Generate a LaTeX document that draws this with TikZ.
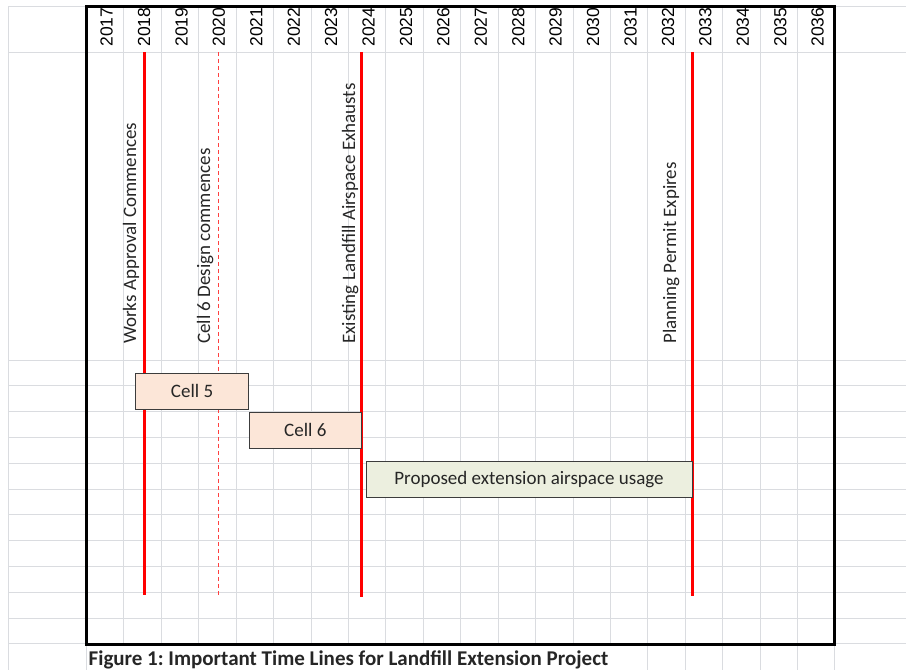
\documentclass[tikz,border=0pt]{standalone}
\usepackage{fontspec}
\setmainfont{Carlito}
\newfontfamily\yearfont{Liberation Sans}
\usetikzlibrary{positioning}
\frenchspacing

\definecolor{gridgray}{RGB}{218,220,224}
\definecolor{cellfill}{RGB}{252,230,216}
\definecolor{extfill}{RGB}{236,239,223}
\definecolor{boxedge}{RGB}{60,60,60}
\definecolor{txt}{RGB}{38,38,38}

\begin{document}
\begin{tikzpicture}[x=1pt,y=-1pt,
   gridline/.style={draw=gridgray,line width=0.9pt},
   yearlbl/.style={rotate=90,anchor=base west,inner sep=0pt,
      font=\yearfont\fontsize{17.5}{17.5}\selectfont},
   eventlbl/.style={rotate=90,anchor=base west,inner sep=0pt,text=txt,
      font=\fontsize{19}{19}\selectfont},
   milestone/.style={red,line width=3pt},
   softmilestone/.style={red!75,line width=1.2pt,dash pattern=on 4pt off 3pt},
   bar/.style={draw=boxedge,line width=0.8pt,fill=#1,inner sep=0pt,anchor=north west,
      minimum height=36.3pt,text=txt,font=\fontsize{19}{19}\selectfont},
   bar/.default=cellfill,
   node distance=0pt]

 \useasboundingbox (0,0) rectangle (906,670);

 %sheet grid
 \draw[gridline] (8,6) -- (906,6) (8,52) -- (906,52);
 \foreach \r in {0,...,11}
   \draw[gridline] (8,360+25.8*\r) -- (906,360+25.8*\r);
 \draw[gridline] (8,6) -- (8,670);
 \foreach \c in {0,...,20}
   \draw[gridline] (86.5+37.42*\c,6) -- (86.5+37.42*\c,644);
 \foreach \c in {0,15,16,17,18,19,20}
   \draw[gridline] (86.5+37.42*\c,644) -- (86.5+37.42*\c,670);

 %years along the top
 \foreach \yr [count=\i from 0] in {2017,...,2036}
   \node[yearlbl] (y\yr) at (86.5+37.42*\i+26.2,46.7) {\yr};

 \draw[line width=3pt] (86.5,6) rectangle (834.5,644);

 %time lines
 \coordinate (wa-top) at (144.3,52);  \coordinate (wa-bot) at (144.3,595);
 \coordinate (cd-top) at (218.3,52);  \coordinate (cd-bot) at (218.3,596);
 \coordinate (ex-top) at (361.7,52);  \coordinate (ex-bot) at (361.7,597);
 \coordinate (pp-top) at (692.7,52);  \coordinate (pp-bot) at (692.7,596);

 \draw[milestone] (wa-top) -- (wa-bot);
 \draw[softmilestone] (cd-top) -- (cd-bot);
 \draw[milestone] (ex-top) -- (ex-bot);
 \draw[milestone] (pp-top) -- (pp-bot);

 \node[eventlbl] (works) at (136,344) {Works Approval Commences};
 \node[eventlbl] (design) at (210,344) {Cell 6 Design commences};
 \node[eventlbl] (exhaust) at (355,344) {Existing Landfill Airspace Exhausts};
 \node[eventlbl] (permit) at (676,344) {Planning Permit Expires};

 %bars
 \node[bar, minimum width=113.3pt] (cell5) at (135,372.7) {Cell 5};
 \node[bar, minimum width=111.7pt, below right=2pt and 0pt of cell5.south east] (cell6) {Cell 6};
 \node[bar=extfill, minimum width=326pt, minimum height=35.7pt,
       below right=12pt and 4pt of cell6.south east] (ext) {Proposed extension airspace usage};

 \node[anchor=base west,inner sep=0pt,text=txt,font=\bfseries\fontsize{21}{21}\selectfont]
   (caption) at (88.5,665.5) {Figure 1: Important Time Lines for Landfill Extension Project};

\end{tikzpicture}
\end{document}
